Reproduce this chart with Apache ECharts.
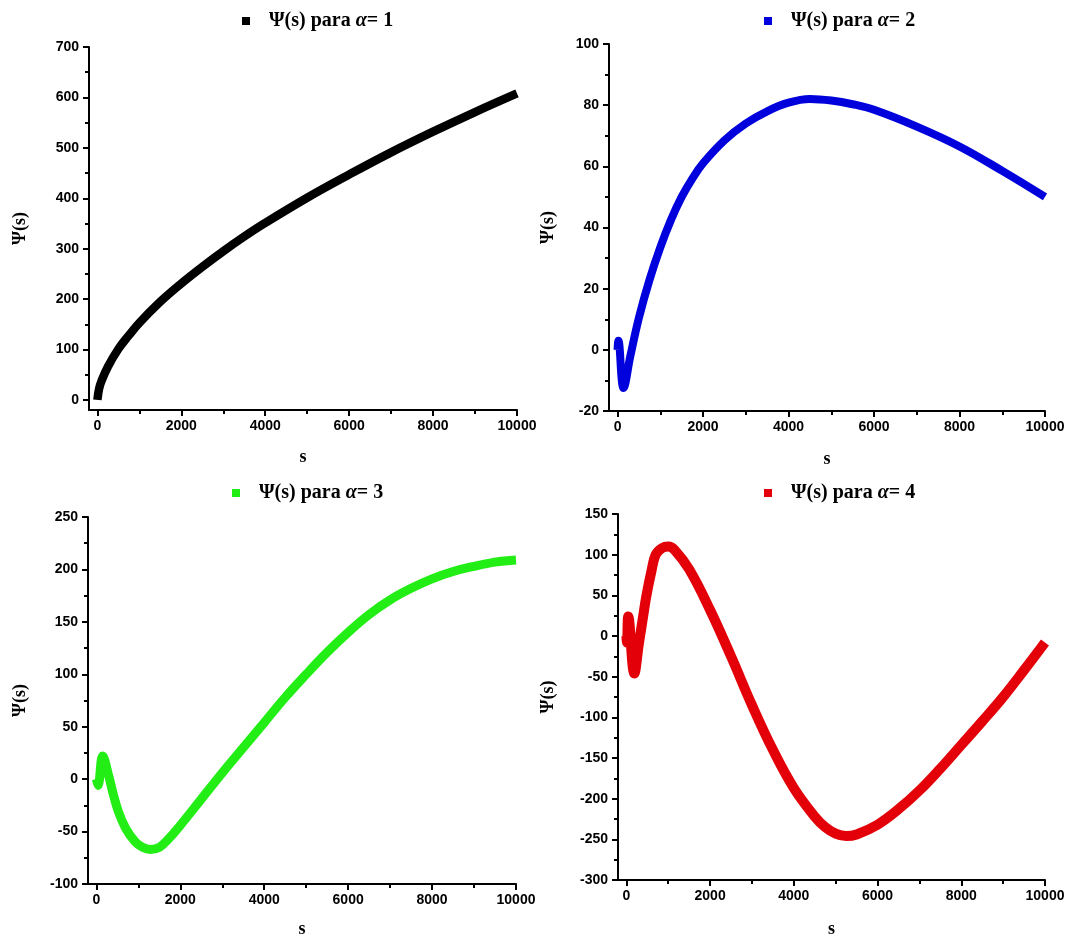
<!DOCTYPE html>
<html>
<head>
<meta charset="utf-8">
<script src="https://cdn.jsdelivr.net/npm/echarts@6/dist/echarts.min.js"></script>
<style>
html,body{margin:0;padding:0;background:#fff;}
#chart{width:1071px;height:939px;}
</style>
</head>
<body>
<div id="chart"></div>
<script>
// ---- data ----
const s1 = [0,40,100,250,500,750,1000,1500,2000,2500,3000,3500,4000,5000,6000,7000,8000,9000,10000];
const psi1 = [0,22,38,66,101,128,153,195,231,264,295,324,351,401,447,491,532,571,608];

const s2 = [0,20,140,300,500,750,1000,1250,1500,1750,2000,2500,3000,3500,4000,4500,5000,5500,6000,7000,8000,9000,10000];
const psi2 = [0,3,-12.5,-2,10.5,23,33.5,42.5,50,56,61,68.5,74,78,80.8,82,81.5,80.3,78.5,73,66.5,58.5,50];

const s3 = [0,40,150,300,400,530,700,930,1100,1290,1500,1720,2000,2500,3000,3500,4000,4500,5000,5500,6000,6500,7000,7500,8000,8500,9000,9500,10000];
const psi3 = [0,-6,22,2,-14,-31.6,-47,-60,-65,-67,-65,-57,-44,-19,6,30,54,78,100,121,140,157,171,182,191,198,203,207,209];

const s4 = [0,15,45,190,300,400,480,600,700,850,1000,1150,1500,2000,2500,3000,3500,4000,4500,4750,5000,5250,5500,6000,6500,7000,7500,8000,8500,9000,9500,10000];
const psi4 = [0,-8,24,-46,-9,24,50,80,100,108,110,106,82,32,-25,-85,-140,-187,-222,-235,-243,-246,-244,-232,-213,-190,-163,-134,-105,-75,-42,-8];

const xMajor = [0,2000,4000,6000,8000,10000];
const xMinor = [1000,3000,5000,7000,9000];
const yMajor1 = [0,100,200,300,400,500,600,700];
const yMinor1 = [50,150,250,350,450,550,650];
const yMajor2 = [-20,0,20,40,60,80,100];
const yMinor2 = [-10,10,30,50,70,90];
const yMajor3 = [-100,-50,0,50,100,150,200,250];
const yMinor3 = [-75,-25,25,75,125,175,225];
const yMajor4 = [-300,-250,-200,-150,-100,-50,0,50,100,150];
const yMinor4 = [-275,-225,-175,-125,-75,-25,25,75,125];
const alphas = ['1','2','3','4'];
const names = alphas.map(a => 'Ψ(s) para α = ' + a);

// ---- layout / style ----
const panels = [
  {grid:{left:89,top:47,width:428,height:363}, s:s1, v:psi1, ymin:-20, ymax:700, yMaj:yMajor1, yMin:yMinor1, color:'#000000', lw:8.5, yGap:60, xGap:38, lg:{left:242,top:10}},
  {grid:{left:609,top:44,width:436,height:367}, s:s2, v:psi2, ymin:-20, ymax:100, yMaj:yMajor2, yMin:yMinor2, color:'#0000dc', lw:8, yGap:52, xGap:39, lg:{left:764,top:10}},
  {grid:{left:88,top:517,width:428,height:367}, s:s3, v:psi3, ymin:-100, ymax:250, yMaj:yMajor3, yMin:yMinor3, color:'#22ee15', lw:9, yGap:59, xGap:36, lg:{left:232,top:482}},
  {grid:{left:618,top:514,width:427,height:366}, s:s4, v:psi4, ymin:-300, ymax:150, yMaj:yMajor4, yMin:yMinor4, color:'#e30008', lw:10, yGap:61, xGap:40, lg:{left:764,top:482}}
];

const labelFont = {fontFamily:'Liberation Sans, Arial, sans-serif', fontWeight:'bold', fontSize:14, color:'#000'};
const nameFont = {fontFamily:'Liberation Serif, Times New Roman, serif', fontWeight:'bold', fontSize:18, color:'#000'};
const plain = v => String(v);

const option = {
  backgroundColor:'#ffffff',
  animation:false,
  grid:[], xAxis:[], yAxis:[], series:[], legend:[]
};

panels.forEach((p,i) => {
  option.grid.push(Object.assign({containLabel:false}, p.grid));
  option.xAxis.push({
    type:'value', gridIndex:i, position:'bottom', min:-200, max:10000,
    name:'s', nameLocation:'middle', nameGap:p.xGap, nameTextStyle:nameFont,
    axisLine:{show:true, onZero:false, lineStyle:{color:'#000', width:2}},
    axisTick:{show:true, inside:false, length:6, lineStyle:{color:'#000', width:2}, customValues:xMajor},
    axisLabel:Object.assign({margin:9, customValues:xMajor, formatter:plain, showMinLabel:true, showMaxLabel:true}, labelFont),
    splitLine:{show:false}
  });
  option.xAxis.push({
    type:'value', gridIndex:i, position:'bottom', min:-200, max:10000,
    axisLine:{show:false, onZero:false},
    axisTick:{show:true, inside:false, length:4, lineStyle:{color:'#000', width:2}, customValues:xMinor},
    axisLabel:{show:false}, splitLine:{show:false}
  });
  option.yAxis.push({
    type:'value', gridIndex:i, position:'left', min:p.ymin, max:p.ymax,
    name:'Ψ(s)', nameLocation:'middle', nameGap:p.yGap, nameRotate:90, nameTextStyle:nameFont,
    axisLine:{show:true, onZero:false, lineStyle:{color:'#000', width:2}},
    axisTick:{show:true, inside:false, length:6, lineStyle:{color:'#000', width:2}, customValues:p.yMaj},
    axisLabel:Object.assign({margin:10, customValues:p.yMaj, formatter:plain, showMinLabel:true, showMaxLabel:true}, labelFont),
    splitLine:{show:false}
  });
  option.yAxis.push({
    type:'value', gridIndex:i, position:'left', min:p.ymin, max:p.ymax,
    axisLine:{show:false, onZero:false},
    axisTick:{show:true, inside:false, length:4, lineStyle:{color:'#000', width:2}, customValues:p.yMin},
    axisLabel:{show:false}, splitLine:{show:false}
  });
  option.series.push({
    type:'line', name:names[i], xAxisIndex:2*i, yAxisIndex:2*i,
    data:p.s.map((x,k)=>[x,p.v[k]]),
    showSymbol:false, symbol:'rect', smooth:0.4,
    itemStyle:{color:p.color},
    lineStyle:{color:p.color, width:p.lw, join:'round'},
    clip:false
  });
  option.legend.push({
    data:[names[i]], left:p.lg.left, top:p.lg.top, padding:0,
    icon:'rect', itemWidth:8, itemHeight:8, selectedMode:false,
    formatter: () => '{g|}{a|Ψ(s) para }{i|α}{a|= ' + alphas[i] + '}',
    textStyle:{
      lineHeight:22,
      rich:{
        g:{width:14},
        a:{fontFamily:'Liberation Serif, Times New Roman, serif', fontWeight:'bold', fontSize:20, color:'#000', lineHeight:22},
        i:{fontFamily:'Liberation Serif, Times New Roman, serif', fontStyle:'italic', fontWeight:'bold', fontSize:20, color:'#000', lineHeight:22}
      }
    }
  });
});

const chart = echarts.init(document.getElementById('chart'), null, {renderer:'canvas'});
chart.setOption(option);
</script>
</body>
</html>
